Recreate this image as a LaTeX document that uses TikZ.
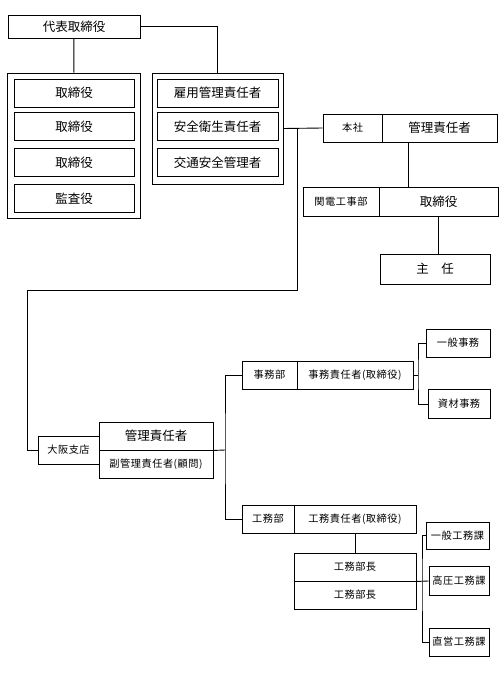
\documentclass[tikz,border=0pt]{standalone}
\usepackage{fontspec}
\setmainfont{Noto Sans CJK JP}
\newfontfamily\spacedfam[LetterSpace=5]{Noto Sans CJK JP}
\usepackage{tikz}
\usetikzlibrary{positioning, calc}
\newcommand{\bigtext}{\fontsize{12.5}{14}\selectfont}
\newcommand{\smalltext}{\spacedfam\fontsize{10.2}{12}\selectfont}

\begin{document}
\begin{tikzpicture}[
    x=1pt, y=-1pt,
    cell/.style={draw, line width=0.9pt, inner sep=0pt, minimum height=28pt},
    frame/.style={draw, line width=0.9pt, inner sep=0pt},
    bigtxt/.style={font=\bigtext},
    smalltxt/.style={font=\smalltext},
    conn/.style={line width=0.9pt}
]
\useasboundingbox[fill=white] (0,0) rectangle (500,682);

% top
\node[cell, bigtxt, minimum width=132pt, minimum height=23pt] (top) at (74,26.5) {代表取締役};

% board group
\node[frame, minimum width=133pt, minimum height=145pt] (leftgrp) at (73.5,145.5) {};
\node[cell, bigtxt, minimum width=120pt] (dir1) at (74,93) {取締役};
\node[cell, bigtxt, minimum width=120pt] (dir2) at (74,126.5) {取締役};
\node[cell, bigtxt, minimum width=120pt] (dir3) at (74,162.5) {取締役};
\node[cell, bigtxt, minimum width=120pt] (audit) at (74,198.5) {監査役};

% managers group
\node[frame, minimum width=131pt, minimum height=111pt] (rightgrp) at (217.5,128.5) {};
\node[cell, bigtxt, minimum width=121pt] (koyou) at (217.5,93) {雇用管理責任者};
\node[cell, bigtxt, minimum width=121pt] (anzen) at (217.5,126.5) {安全衛生責任者};
\node[cell, bigtxt, minimum width=121pt] (koutsu) at (217.5,162.5) {交通安全管理者};

% head office
\node[cell, smalltxt, minimum width=59pt] (honsha) at (352.5,128) {本社};
\node[cell, bigtxt, minimum width=115pt] (honmgr) at (439.5,128) {管理責任者};
\node[cell, smalltxt, minimum width=76pt, minimum height=29pt] (kanden) at (341,201.5) {関電工事部};
\node[cell, bigtxt, minimum width=119pt, minimum height=29pt] (kandir) at (438.5,201.5) {取締役};
\node[cell, bigtxt, minimum width=110pt, minimum height=30pt] (shunin) at (435,269) {主　任};

% osaka branch
\node[cell, smalltxt, minimum width=61pt] (osaka) at (68.5,450) {大阪支店};
\node[cell, bigtxt, minimum width=114pt] (osmgr) at (156,436) {管理責任者};
\node[cell, smalltxt, minimum width=114pt] (ossub) at (156,464) {副管理責任者(顧問)};

% jimu
\node[cell, smalltxt, minimum width=55pt] (jimu) at (269.5,375) {事務部};
\node[cell, smalltxt, minimum width=116pt] (jimumgr) at (355,375) {事務責任者(取締役)};
\node[cell, smalltxt, minimum width=64pt] (ippanjimu) at (458,343) {一般事務};
\node[cell, smalltxt, minimum width=62pt, minimum height=29pt] (shizai) at (459,404) {資材事務};

% komu
\node[cell, smalltxt, minimum width=52pt] (komu) at (268,519) {工務部};
\node[cell, smalltxt, minimum width=122pt] (komumgr) at (355,519) {工務責任者(取締役)};
\node[cell, smalltxt, minimum width=122pt] (buchou1) at (355,567) {工務部長};
\node[cell, smalltxt, minimum width=122pt] (buchou2) at (355,595) {工務部長};
\node[cell, smalltxt, minimum width=63pt, minimum height=27pt] (ippankomu) at (457.5,535.5) {一般工務課};
\node[cell, smalltxt, minimum width=60pt, minimum height=29pt] (koatsu) at (459,581) {高圧工務課};
\node[cell, smalltxt, minimum width=60pt] (chokuei) at (459,642) {直営工務課};

% junctions
\coordinate (j1) at (297,290);
\coordinate (j2) at (27,290);
\coordinate (v1) at (408,0);
\coordinate (v2) at (225,450);
\coordinate (v3) at (418,375);
\coordinate (v4) at (422,581);

\draw[conn] (top) -- (leftgrp);
\draw[conn] (top.east) -| (rightgrp.north);
\draw[conn] (rightgrp.east) -- (honsha.west);
\draw[conn] (j1 |- honsha.west) -- (j1) -- (j2) |- (osaka.west);
\draw[conn] (honmgr.south -| v1) -- (kandir.north -| v1);
\draw[conn] (kandir.south) -- (kandir.south |- shunin.north);

\draw[conn] (osmgr.south east) -- (v2);
\draw[conn] (jimu.west) -| (v2) |- (komu.west);
\draw[conn] (jimumgr.east) -- (v3);
\draw[conn] (ippanjimu.west) -| (v3) |- (shizai.west);

\draw[conn] (komumgr.south) -- (buchou1.north);
\draw[conn] (buchou1.south east) -- (koatsu.west);
\draw[conn] (ippankomu.west) -| (v4) |- (chokuei.west);

\end{tikzpicture}
\end{document}
